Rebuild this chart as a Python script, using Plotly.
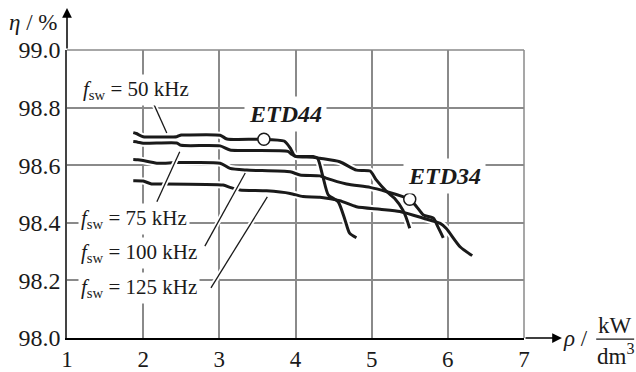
import plotly.graph_objects as go

# ---------------- data ----------------
x_50 = [1.87, 1.91, 2.00, 2.25, 2.44, 2.50, 2.55, 3.01, 3.10, 3.53, 3.85, 3.93, 3.99, 4.10, 4.23, 4.29, 4.36, 4.43, 4.56, 4.65, 4.71, 4.80]
y_50 = [98.713, 98.710, 98.699, 98.698, 98.699, 98.705, 98.705, 98.704, 98.691, 98.690, 98.684, 98.660, 98.632, 98.630, 98.630, 98.624, 98.560, 98.497, 98.473, 98.410, 98.364, 98.348]

x_75 = [1.87, 1.93, 2.00, 2.44, 2.50, 3.01, 3.14, 3.90, 3.95, 4.01, 4.23, 4.32, 4.58, 4.80, 4.98, 5.06, 5.20, 5.30, 5.41, 5.45, 5.50]
y_75 = [98.682, 98.680, 98.676, 98.677, 98.669, 98.667, 98.653, 98.648, 98.638, 98.630, 98.628, 98.624, 98.612, 98.583, 98.580, 98.549, 98.508, 98.485, 98.444, 98.420, 98.381]

x_100 = [1.87, 1.93, 2.00, 2.18, 2.44, 3.01, 3.14, 3.36, 3.93, 4.06, 4.32, 4.40, 4.67, 4.98, 5.20, 5.41, 5.50, 5.59, 5.68, 5.81, 5.87, 5.94]
y_100 = [98.620, 98.619, 98.616, 98.607, 98.609, 98.607, 98.589, 98.583, 98.577, 98.566, 98.563, 98.555, 98.535, 98.523, 98.508, 98.491, 98.482, 98.456, 98.427, 98.416, 98.386, 98.348]

x_125 = [1.87, 2.00, 2.11, 2.22, 3.05, 3.14, 3.27, 3.62, 3.93, 4.10, 4.32, 4.58, 4.80, 5.11, 5.37, 5.68, 5.90, 5.98, 6.16, 6.32]
y_125 = [98.546, 98.545, 98.535, 98.535, 98.531, 98.523, 98.514, 98.511, 98.502, 98.491, 98.489, 98.477, 98.456, 98.447, 98.439, 98.416, 98.398, 98.380, 98.317, 98.286]

etd_names = ["ETD44", "ETD34"]
etd_x = [3.585, 5.50]
etd_y = [98.690, 98.482]
etd_label_x = [3.874, 5.961]
etd_label_y = [98.778, 98.5625]

freq_labels = ["50", "75", "100", "125"]
label_x = [1.171, 1.144, 1.144, 1.144]
label_y = [98.861, 98.413, 98.295, 98.174]
leader_x0 = [2.06, 2.18, 2.81, 2.89]
leader_y0 = [98.859, 98.473, 98.319, 98.174]
leader_x1 = [2.31, 2.48, 3.34, 3.63]
leader_y1 = [98.712, 98.647, 98.573, 98.490]

x_ticks = [1, 2, 3, 4, 5, 6, 7]
y_ticks = [98.0, 98.2, 98.4, 98.6, 98.8, 99.0]

# ---------------- figure ----------------
FONT = "Liberation Serif"
INK = "#1a1a1a"
GRID = "#8a8a8a"
curves = [(x_50, y_50), (x_75, y_75), (x_100, y_100), (x_125, y_125)]

fig = go.Figure()

# white halos under curves
for xs, ys in curves:
    fig.add_trace(go.Scatter(x=xs, y=ys, mode="lines", line=dict(color="white", width=7, shape="spline", smoothing=0.6),
                             hoverinfo="skip", showlegend=False))
for xs, ys in curves:
    fig.add_trace(go.Scatter(x=xs, y=ys, mode="lines", line=dict(color=INK, width=3, shape="spline", smoothing=0.6),
                             showlegend=False))

# leader lines with halo
for i in range(len(freq_labels)):
    fig.add_trace(go.Scatter(x=[leader_x0[i], leader_x1[i]], y=[leader_y0[i], leader_y1[i]], mode="lines",
                             line=dict(color="white", width=5), hoverinfo="skip", showlegend=False))
for i in range(len(freq_labels)):
    fig.add_trace(go.Scatter(x=[leader_x0[i], leader_x1[i]], y=[leader_y0[i], leader_y1[i]], mode="lines",
                             line=dict(color=INK, width=1.3), showlegend=False))

# core markers
fig.add_trace(go.Scatter(x=etd_x, y=etd_y, mode="markers",
                         marker=dict(size=12, color="white", line=dict(color=INK, width=1.5)),
                         showlegend=False))

annotations = []
for i, f in enumerate(freq_labels):
    annotations.append(dict(x=label_x[i], y=label_y[i], xref="x", yref="y", xanchor="left", yanchor="middle",
                            text="<i>f</i><sub>sw</sub> = " + f + " kHz", showarrow=False,
                            font=dict(family=FONT, size=21, color=INK), bgcolor="white", borderpad=2))
for i, n in enumerate(etd_names):
    annotations.append(dict(x=etd_label_x[i], y=etd_label_y[i], xref="x", yref="y", xanchor="center", yanchor="middle",
                            text="<b><i>" + n + "</i></b>", showarrow=False,
                            font=dict(family=FONT, size=24, color=INK), bgcolor="white", borderpad=4))

# axis arrows
annotations.append(dict(x=1.083, y=0, ax=1.0, ay=0, xref="x domain", yref="y domain", axref="x domain", ayref="y domain",
                        text="", showarrow=True, arrowhead=2, arrowsize=1.3, arrowwidth=1.5, arrowcolor="black"))
annotations.append(dict(x=0, y=1.146, ax=0, ay=1.0, xref="x domain", yref="y domain", axref="x domain", ayref="y domain",
                        text="", showarrow=True, arrowhead=2, arrowsize=1.3, arrowwidth=1.5, arrowcolor="black"))

# axis titles
annotations.append(dict(x=-0.074, y=1.097, xref="paper", yref="paper", text="<i>η</i> / %", showarrow=False,
                        font=dict(family=FONT, size=23, color=INK), xanchor="center", yanchor="middle"))
annotations.append(dict(x=1.112, y=0.0, xref="paper", yref="paper", text="<i>ρ</i> /", showarrow=False,
                        font=dict(family=FONT, size=23, color=INK), xanchor="center", yanchor="middle"))
annotations.append(dict(x=1.199, y=0.045, xref="paper", yref="paper", text="kW", showarrow=False,
                        font=dict(family=FONT, size=23, color=INK), xanchor="center", yanchor="middle"))
annotations.append(dict(x=1.201, y=-0.058, xref="paper", yref="paper", text="dm<sup>3</sup>", showarrow=False,
                        font=dict(family=FONT, size=23, color=INK), xanchor="center", yanchor="middle"))

shapes = [
    dict(type="line", xref="paper", yref="paper", x0=1.158, x1=1.241, y0=-0.004, y1=-0.004,
         line=dict(color=INK, width=1.3)),
    dict(type="line", xref="x domain", yref="y domain", x0=1, x1=1, y0=0, y1=1, line=dict(color=GRID, width=1.5),
         layer="below"),
    dict(type="line", xref="x domain", yref="y domain", x0=0, x1=1, y0=1, y1=1, line=dict(color=GRID, width=1.5),
         layer="below"),
]

fig.update_layout(
    width=636, height=372,
    margin=dict(l=67, r=112, t=50, b=34),
    paper_bgcolor="white", plot_bgcolor="white",
    showlegend=False,
    annotations=annotations, shapes=shapes,
    xaxis=dict(range=[1, 7], tickvals=x_ticks, ticktext=[str(v) for v in x_ticks],
               showgrid=True, gridcolor=GRID, gridwidth=1.5, zeroline=False, automargin=False,
               showline=True, linecolor="black", linewidth=1.5, ticks="",
               tickfont=dict(family=FONT, size=23, color=INK)),
    yaxis=dict(range=[98, 99], tickvals=y_ticks, ticktext=["%.1f" % v for v in y_ticks],
               showgrid=True, gridcolor=GRID, gridwidth=1.5, zeroline=False, automargin=False,
               showline=True, linecolor="#444444", linewidth=1.5, ticks="",
               tickfont=dict(family=FONT, size=24, color=INK)),
)

fig.write_html("out.html")
